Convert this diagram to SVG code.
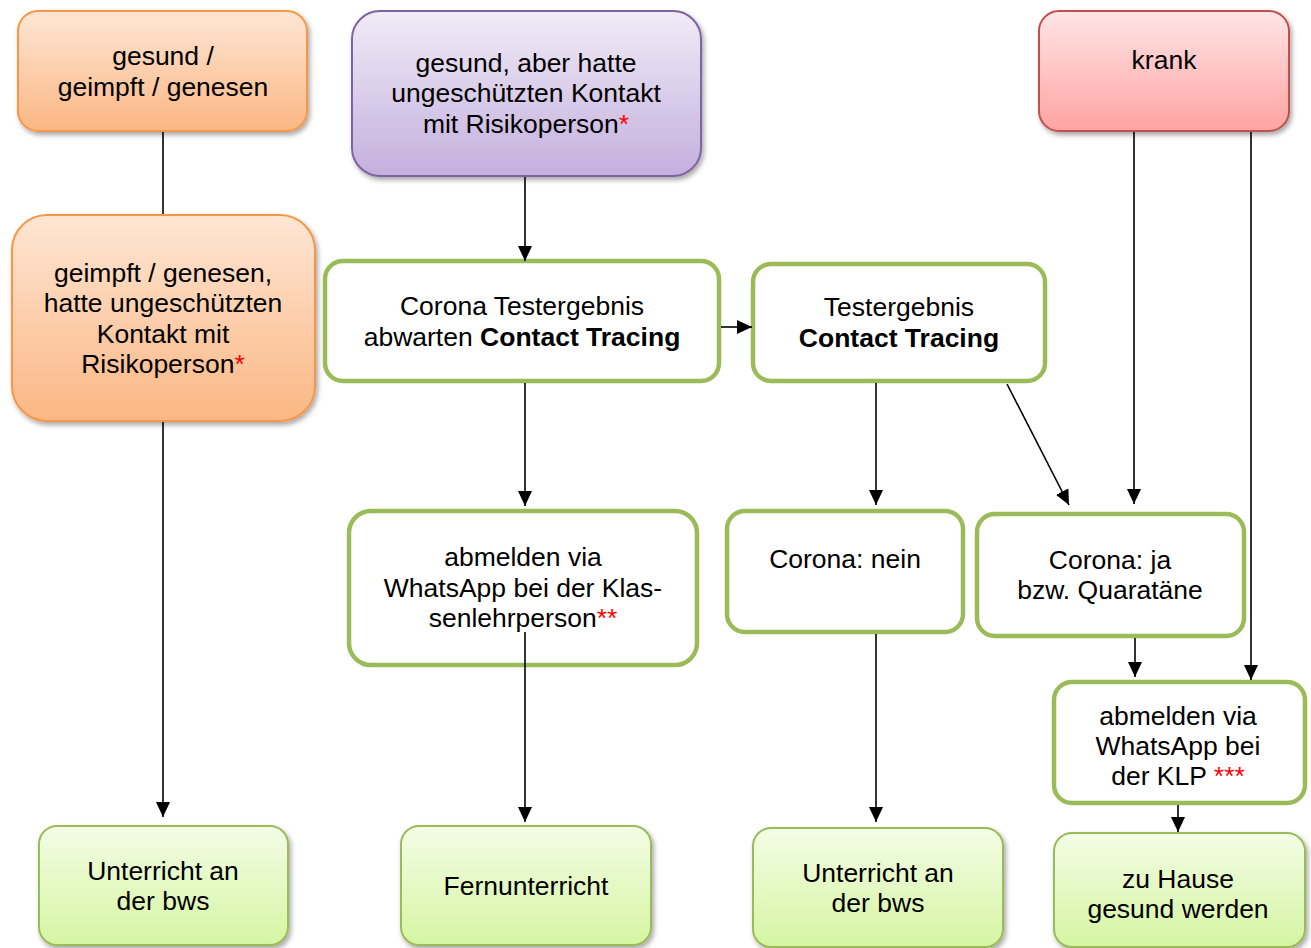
<svg xmlns="http://www.w3.org/2000/svg" width="1311" height="948" viewBox="0 0 1311 948">
<defs>
<linearGradient id="gOrange" x1="0" y1="0" x2="0" y2="1"><stop offset="0" stop-color="#fee6d4"/><stop offset="1" stop-color="#fbb784"/></linearGradient>
<linearGradient id="gPurple" x1="0" y1="0" x2="0" y2="1"><stop offset="0" stop-color="#f1ecf7"/><stop offset="1" stop-color="#c3afdd"/></linearGradient>
<linearGradient id="gRed" x1="0" y1="0" x2="0" y2="1"><stop offset="0" stop-color="#ffe5e5"/><stop offset="1" stop-color="#ffa3a3"/></linearGradient>
<linearGradient id="gGreen" x1="0" y1="0" x2="0" y2="1"><stop offset="0" stop-color="#f3fde6"/><stop offset="1" stop-color="#d5f5a2"/></linearGradient>
<filter id="shadow" x="-10%" y="-10%" width="125%" height="130%"><feDropShadow dx="2" dy="3" stdDeviation="2.5" flood-color="#000" flood-opacity="0.35"/></filter>
<marker id="arrow" markerUnits="userSpaceOnUse" markerWidth="16" markerHeight="16" refX="15" refY="7" orient="auto"><path d="M0,0 L15,7 L0,14 z" fill="#000"/></marker>
<style>
text{font-family:"Liberation Sans",Arial,sans-serif;font-size:26.5px;fill:#000;text-anchor:middle}
.b{font-weight:bold}
.r{fill:#ff0000}
.orange{fill:url(#gOrange);stroke:#f79646;stroke-width:2;filter:url(#shadow)}
.purple{fill:url(#gPurple);stroke:#8064a2;stroke-width:2;filter:url(#shadow)}
.red{fill:url(#gRed);stroke:#c0504d;stroke-width:2;filter:url(#shadow)}
.green{fill:url(#gGreen);stroke:#9bbb59;stroke-width:2;filter:url(#shadow)}
.outline{fill:#fff;stroke:#9bbb59;stroke-width:4.5}
.c{stroke:#000;stroke-width:1.6;fill:none}
.ca{stroke:#000;stroke-width:1.6;fill:none;marker-end:url(#arrow)}
</style>
</defs>

<g id="n1"><rect class="orange" x="18" y="11" width="289" height="120" rx="20"/>
<text x="163" y="65">gesund /</text><text x="163" y="96">geimpft / genesen</text></g>

<g id="n2"><rect class="orange" x="12" y="215" width="303" height="206" rx="35"/>
<text x="163" y="282">geimpft / genesen,</text><text x="163" y="312">hatte ungeschützten</text><text x="163" y="343">Kontakt mit</text><text x="163" y="373">Risikoperson<tspan class="r">*</tspan></text></g>

<g id="n3"><rect class="purple" x="352" y="11" width="349" height="165" rx="28"/>
<text x="526" y="72">gesund, aber hatte</text><text x="526" y="102">ungeschützten Kontakt</text><text x="526" y="133">mit Risikoperson<tspan class="r">*</tspan></text></g>

<g id="n4"><rect class="red" x="1039" y="11" width="250" height="120" rx="20"/>
<text x="1164" y="69">krank</text></g>

<g id="n5"><rect class="outline" x="325" y="261" width="394" height="120" rx="18"/>
<text x="522" y="315">Corona Testergebnis</text><text x="522" y="346">abwarten <tspan class="b">Contact Tracing</tspan></text></g>

<g id="n6"><rect class="outline" x="753" y="264" width="292" height="117" rx="18"/>
<text x="899" y="316">Testergebnis</text><text x="899" y="347" class="b">Contact Tracing</text></g>

<g id="n7"><rect class="outline" x="349" y="511" width="348" height="154" rx="22"/>
<text x="523" y="566">abmelden via</text><text x="523" y="597">WhatsApp bei der Klas-</text><text x="523" y="627">senlehrperson<tspan class="r">**</tspan></text></g>

<g id="n8"><rect class="outline" x="727" y="511" width="236" height="121" rx="18"/>
<text x="845" y="568">Corona: nein</text></g>

<g id="n9"><rect class="outline" x="977" y="514" width="267" height="122" rx="18"/>
<text x="1110" y="569">Corona: ja</text><text x="1110" y="599">bzw. Quaratäne</text></g>

<g id="n10"><rect class="outline" x="1054" y="682" width="251" height="121" rx="18"/>
<text x="1178" y="725">abmelden via</text><text x="1178" y="755">WhatsApp bei</text><text x="1178" y="785">der KLP <tspan class="r">***</tspan></text></g>

<g id="n11"><rect class="green" x="39" y="826" width="249" height="119" rx="18"/>
<text x="163" y="880">Unterricht an</text><text x="163" y="910">der bws</text></g>

<g id="n12"><rect class="green" x="401" y="826" width="250" height="119" rx="18"/>
<text x="526" y="895">Fernunterricht</text></g>

<g id="n13"><rect class="green" x="753" y="828" width="250" height="119" rx="18"/>
<text x="878" y="882">Unterricht an</text><text x="878" y="912">der bws</text></g>

<g id="n14"><rect class="green" x="1054" y="833" width="251" height="114" rx="18"/>
<text x="1178" y="888">zu Hause</text><text x="1178" y="918">gesund werden</text></g>

<g id="connectors">
<line class="c" x1="163" y1="132" x2="163" y2="214"/>
<line class="ca" x1="163" y1="422" x2="163" y2="817"/>
<line class="ca" x1="525" y1="177" x2="525" y2="261"/>
<line class="ca" x1="721" y1="327" x2="752" y2="327"/>
<line class="ca" x1="525" y1="383" x2="525" y2="506"/>
<line class="ca" x1="525" y1="632" x2="525" y2="822"/>
<line class="ca" x1="876" y1="383" x2="876" y2="505"/>
<line class="ca" x1="1007" y1="384" x2="1069" y2="505"/>
<line class="ca" x1="1134" y1="132" x2="1134" y2="504"/>
<line class="ca" x1="1251" y1="132" x2="1251" y2="680"/>
<line class="ca" x1="1135" y1="638" x2="1135" y2="677"/>
<line class="ca" x1="876" y1="634" x2="876" y2="822"/>
<line class="ca" x1="1178" y1="805" x2="1178" y2="832"/>
</g>
</svg>
